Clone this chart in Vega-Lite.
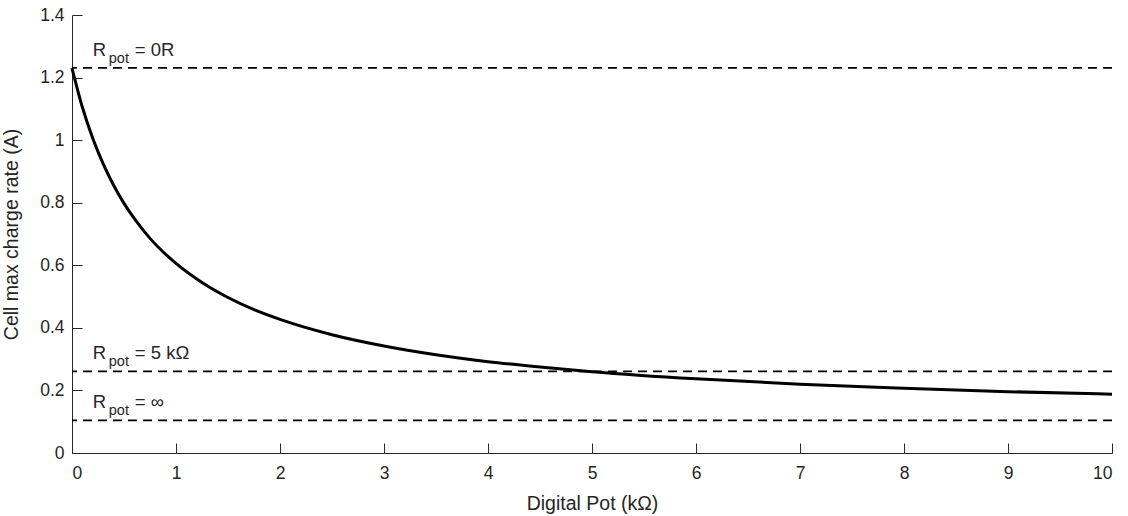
{
  "$schema": "https://vega.github.io/schema/vega-lite/v6.json",
  "width": 1040,
  "height": 438,
  "autosize": {"type": "none"},
  "padding": {"left": 72, "top": 15, "right": 16, "bottom": 63},
  "background": "white",
  "config": {
    "view": {"stroke": null},
    "font": "Liberation Sans",
    "axis": {
      "grid": false,
      "domainColor": "#262626",
      "tickColor": "#262626",
      "labelColor": "#262626",
      "titleColor": "#262626",
      "labelFont": "Liberation Sans",
      "titleFont": "Liberation Sans",
      "labelFontSize": 17.5,
      "titleFontSize": 19.5,
      "titleFontWeight": "normal",
      "domainWidth": 1,
      "tickWidth": 1
    }
  },
  "datasets": {
    "curve": [
      {"pot": 0, "rate": 1.230},
      {"pot": 0.1, "rate": 1.105},
      {"pot": 0.2, "rate": 1.005},
      {"pot": 0.3, "rate": 0.924},
      {"pot": 0.4, "rate": 0.856},
      {"pot": 0.5, "rate": 0.798},
      {"pot": 0.6, "rate": 0.749},
      {"pot": 0.75, "rate": 0.686},
      {"pot": 1.0, "rate": 0.606},
      {"pot": 1.25, "rate": 0.545},
      {"pot": 1.5, "rate": 0.497},
      {"pot": 1.75, "rate": 0.458},
      {"pot": 2.0, "rate": 0.427},
      {"pot": 2.5, "rate": 0.378},
      {"pot": 3.0, "rate": 0.342},
      {"pot": 3.5, "rate": 0.314},
      {"pot": 4.0, "rate": 0.292},
      {"pot": 4.5, "rate": 0.275},
      {"pot": 5.0, "rate": 0.260},
      {"pot": 6.0, "rate": 0.237},
      {"pot": 7.0, "rate": 0.220},
      {"pot": 8.0, "rate": 0.207},
      {"pot": 9.0, "rate": 0.196},
      {"pot": 10.0, "rate": 0.188}
    ],
    "refs": [
      {"level": 1.231, "lx": 0.2, "rest": "= 0R"},
      {"level": 0.261, "lx": 0.2, "rest": "= 5 kΩ"},
      {"level": 0.104, "lx": 0.2, "rest": "= ∞"}
    ]
  },
  "layer": [
    {
      "data": {"name": "refs"},
      "mark": {"type": "rule", "color": "black", "strokeWidth": 1.8, "strokeDash": [9, 6]},
      "encoding": {
        "y": {"field": "level", "type": "quantitative", "scale": {"domain": [0, 1.4]}}
      }
    },
    {
      "data": {"name": "curve"},
      "mark": {"type": "line", "color": "black", "strokeWidth": 3, "interpolate": "monotone"},
      "encoding": {
        "x": {
          "field": "pot", "type": "quantitative",
          "scale": {"domain": [0, 10], "nice": false},
          "axis": {
            "title": "Digital Pot (kΩ)",
            "values": [0,1,2,3,4,5,6,7,8,9,10],
            "format": "d",
            "tickSize": -10,
            "labelPadding": 21,
            "titleY": 56,
            "titleBaseline": "alphabetic"
          }
        },
        "y": {
          "field": "rate", "type": "quantitative",
          "scale": {"domain": [0, 1.4], "nice": false},
          "axis": {
            "title": "Cell max charge rate (A)",
            "values": [0, 0.2, 0.4, 0.6, 0.8, 1, 1.2, 1.4],
            "format": "~g",
            "tickSize": -10,
            "labelPadding": 18,
            "titleX": -55,
            "titleBaseline": "alphabetic"
          }
        }
      }
    },
    {
      "data": {"name": "refs"},
      "mark": {"type": "text", "align": "left", "baseline": "alphabetic", "fontSize": 18.5, "dy": -12, "color": "#262626"},
      "encoding": {
        "x": {"field": "lx", "type": "quantitative"},
        "y": {"field": "level", "type": "quantitative"},
        "text": {"value": "R"}
      }
    },
    {
      "data": {"name": "refs"},
      "mark": {"type": "text", "align": "left", "baseline": "alphabetic", "fontSize": 14.5, "dx": 16, "dy": -5, "color": "#262626"},
      "encoding": {
        "x": {"field": "lx", "type": "quantitative"},
        "y": {"field": "level", "type": "quantitative"},
        "text": {"value": "pot"}
      }
    },
    {
      "data": {"name": "refs"},
      "mark": {"type": "text", "align": "left", "baseline": "alphabetic", "fontSize": 18.5, "dx": 42, "dy": -12, "color": "#262626"},
      "encoding": {
        "x": {"field": "lx", "type": "quantitative"},
        "y": {"field": "level", "type": "quantitative"},
        "text": {"field": "rest"}
      }
    }
  ]
}
